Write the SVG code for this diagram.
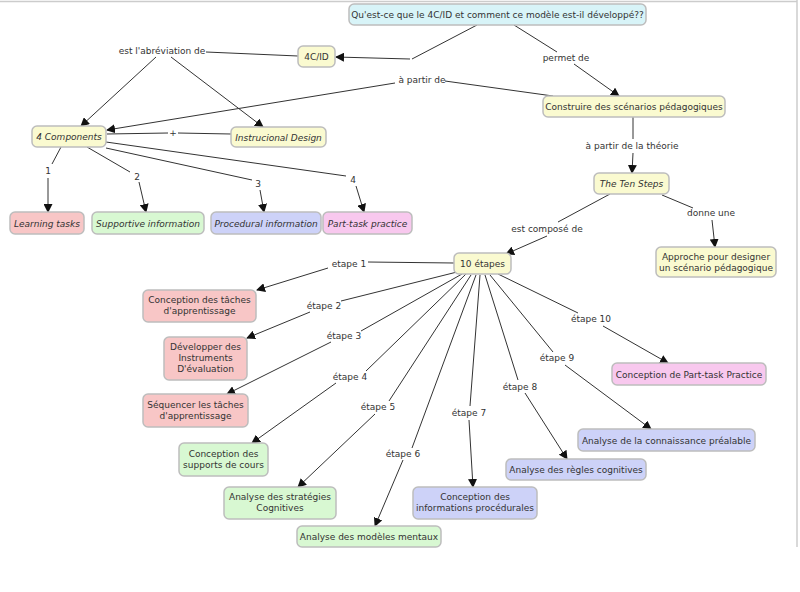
<svg xmlns="http://www.w3.org/2000/svg" width="800" height="592" viewBox="0 0 800 592">
<style>
.n rect{stroke:#bdbdbd;stroke-width:1.5}
.n text,.l{font-family:"DejaVu Sans",Verdana,sans-serif;font-size:9px;fill:#333;text-anchor:middle}
.i text{font-style:italic}
.y rect{fill:#fafad0}
.c rect{fill:#d8f4f8}
.p rect{fill:#f8c6c6}
.g rect{fill:#d8f8d2}
.b rect{fill:#cdd2f8}
.m rect{fill:#f8c8ee}
.e line,.e polyline{stroke:#333;stroke-width:1;fill:none}
.a{marker-end:url(#ah)}
</style>
<defs>
<marker id="ah" markerWidth="9" markerHeight="9" refX="8" refY="4.5" orient="auto" markerUnits="userSpaceOnUse">
<path d="M0,0 L9,4.5 L0,9 z" fill="#111"/>
</marker>
</defs>
<rect width="800" height="592" fill="#fff"/>
<line x1="0" y1="1.5" x2="797" y2="1.5" stroke="#ccc" stroke-width="1.5"/>
<line x1="797" y1="0" x2="797" y2="547" stroke="#ccc" stroke-width="1.5"/>
<g id="connectors" class="e">
<line x1="477" y1="25" x2="412" y2="59"/>
<line class="a" x1="410" y1="59" x2="336" y2="57"/>
<line x1="514" y1="25" x2="557" y2="52"/>
<line class="a" x1="574" y1="64" x2="619" y2="96"/>
<line x1="553" y1="96" x2="445" y2="81"/>
<line class="a" x1="395" y1="83" x2="107" y2="130"/>
<line x1="298" y1="56" x2="206" y2="52"/>
<line class="a" x1="156" y1="57" x2="81" y2="126"/>
<line class="a" x1="171" y1="57" x2="263" y2="127"/>
<line x1="231" y1="134" x2="178" y2="133"/>
<line x1="168" y1="133" x2="107" y2="134"/>
<line x1="61" y1="147" x2="52" y2="164"/>
<line class="a" x1="48" y1="178" x2="48" y2="212"/>
<line x1="87" y1="147" x2="130" y2="172"/>
<line class="a" x1="139" y1="182" x2="146" y2="212"/>
<line x1="106" y1="148" x2="252" y2="180"/>
<line class="a" x1="260" y1="190" x2="264" y2="212"/>
<line x1="106" y1="142" x2="346" y2="176"/>
<line class="a" x1="356" y1="186" x2="364" y2="212"/>
<line x1="633" y1="117" x2="633" y2="139"/>
<line class="a" x1="633" y1="153" x2="632" y2="173"/>
<line x1="610" y1="194" x2="558" y2="222"/>
<line class="a" x1="547" y1="236" x2="506" y2="254"/>
<line x1="662" y1="195" x2="693" y2="208"/>
<line class="a" x1="712" y1="220" x2="715" y2="247"/>
<line x1="454" y1="263" x2="368" y2="262"/>
<line class="a" x1="328" y1="268" x2="257" y2="290"/>
<line x1="457" y1="272" x2="341" y2="301"/>
<line class="a" x1="310" y1="312" x2="247" y2="338"/>
<line x1="462" y1="274" x2="361" y2="331"/>
<line class="a" x1="331" y1="342" x2="227" y2="394"/>
<line x1="466" y1="274" x2="366" y2="371"/>
<line class="a" x1="336" y1="383" x2="252" y2="443"/>
<line x1="471" y1="275" x2="389" y2="401"/>
<line class="a" x1="375" y1="414" x2="298" y2="487"/>
<line x1="476" y1="275" x2="412" y2="448"/>
<line class="a" x1="403" y1="460" x2="375" y2="526"/>
<line x1="480" y1="275" x2="470" y2="406"/>
<line class="a" x1="469" y1="420" x2="473" y2="487"/>
<line x1="485" y1="275" x2="518" y2="380"/>
<line class="a" x1="525" y1="393" x2="567" y2="459"/>
<line x1="490" y1="275" x2="553" y2="352"/>
<line class="a" x1="565" y1="365" x2="651" y2="429"/>
<line x1="498" y1="274" x2="578" y2="313"/>
<line class="a" x1="603" y1="326" x2="668" y2="363"/>
</g>
<g id="labels">
<text class="l" x="566" y="61">permet de</text>
<text class="l" x="422" y="83">à partir de</text>
<text class="l" x="162" y="54">est l'abréviation de</text>
<text class="l" x="173" y="136">+</text>
<text class="l" x="48" y="174">1</text>
<text class="l" x="137" y="180">2</text>
<text class="l" x="258" y="187">3</text>
<text class="l" x="353" y="183">4</text>
<text class="l" x="632" y="149">à partir de la théorie</text>
<text class="l" x="547" y="232">est composé de</text>
<text class="l" x="711" y="216">donne une</text>
<text class="l" x="349" y="267">etape 1</text>
<text class="l" x="324" y="309">étape 2</text>
<text class="l" x="344" y="339">étape 3</text>
<text class="l" x="350" y="380">étape 4</text>
<text class="l" x="378" y="410">étape 5</text>
<text class="l" x="403" y="457">étape 6</text>
<text class="l" x="469" y="416">étape 7</text>
<text class="l" x="520" y="390">étape 8</text>
<text class="l" x="557" y="361">étape 9</text>
<text class="l" x="591" y="322">étape 10</text>
</g>
<g id="n-question" class="n c"><rect x="349" y="4" width="297" height="21" rx="5"/><text x="497.5" y="18">Qu'est-ce que le 4C/ID et comment ce modèle est-il développé??</text></g>
<g id="n-4cid" class="n y"><rect x="298" y="46" width="37" height="21" rx="5"/><text x="316.5" y="60">4C/ID</text></g>
<g id="n-construire" class="n y"><rect x="543" y="96" width="182" height="21" rx="5"/><text x="634" y="110">Construire des scénarios pédagogiques</text></g>
<g id="n-4components" class="n y i"><rect x="32" y="126" width="74" height="21" rx="5"/><text x="69" y="140">4 Components</text></g>
<g id="n-instrucional" class="n y i"><rect x="231" y="127" width="95" height="20" rx="5"/><text x="278.5" y="140.5">Instrucional Design</text></g>
<g id="n-learning" class="n p i"><rect x="10" y="212" width="74" height="22" rx="5"/><text x="47" y="226.5">Learning tasks</text></g>
<g id="n-supportive" class="n g i"><rect x="92" y="212" width="112" height="22" rx="5"/><text x="148" y="226.5">Supportive information</text></g>
<g id="n-procedural" class="n b i"><rect x="211" y="212" width="110" height="22" rx="5"/><text x="266" y="226.5">Procedural information</text></g>
<g id="n-parttask" class="n m i"><rect x="323" y="212" width="89" height="22" rx="5"/><text x="367.5" y="226.5">Part-task practice</text></g>
<g id="n-tensteps" class="n y i"><rect x="594" y="173" width="75" height="21" rx="5"/><text x="631.5" y="187">The Ten Steps</text></g>
<g id="n-approche" class="n y"><rect x="656" y="247" width="120" height="30" rx="5"/><text x="716" y="260">Approche pour designer</text><text x="716" y="271">un scénario pédagogique</text></g>
<g id="n-10etapes" class="n y"><rect x="454" y="253" width="57" height="21" rx="5"/><text x="482.5" y="267">10 étapes</text></g>
<g id="n-e1" class="n p"><rect x="143" y="290" width="113" height="32" rx="5"/><text x="199.5" y="303">Conception des tâches</text><text x="199.5" y="314">d'apprentissage</text></g>
<g id="n-e2" class="n p"><rect x="164" y="337" width="83" height="43" rx="5"/><text x="205.5" y="350">Développer des</text><text x="205.5" y="361">Instruments</text><text x="205.5" y="372">D'évaluation</text></g>
<g id="n-e3" class="n p"><rect x="143" y="394" width="105" height="33" rx="5"/><text x="195.5" y="408">Séquencer les tâches</text><text x="195.5" y="419">d'apprentissage</text></g>
<g id="n-e4" class="n g"><rect x="179" y="443" width="89" height="33" rx="5"/><text x="223.5" y="457">Conception des</text><text x="223.5" y="468">supports de cours</text></g>
<g id="n-e5" class="n g"><rect x="224" y="487" width="112" height="32" rx="5"/><text x="280" y="500">Analyse des stratégies</text><text x="280" y="511">Cognitives</text></g>
<g id="n-e6" class="n g"><rect x="297" y="526" width="144" height="21" rx="5"/><text x="369" y="540">Analyse des modèles mentaux</text></g>
<g id="n-e7" class="n b"><rect x="413" y="487" width="124" height="32" rx="5"/><text x="475" y="500">Conception des</text><text x="475" y="511">informations procédurales</text></g>
<g id="n-e8" class="n b"><rect x="506" y="459" width="140" height="21" rx="5"/><text x="576" y="473">Analyse des règles cognitives</text></g>
<g id="n-e9" class="n b"><rect x="578" y="429" width="177" height="22" rx="5"/><text x="666.5" y="443.5">Analyse de la connaissance préalable</text></g>
<g id="n-e10" class="n m"><rect x="612" y="363" width="154" height="22" rx="5"/><text x="689" y="377.5">Conception de Part-task Practice</text></g>
</svg>
